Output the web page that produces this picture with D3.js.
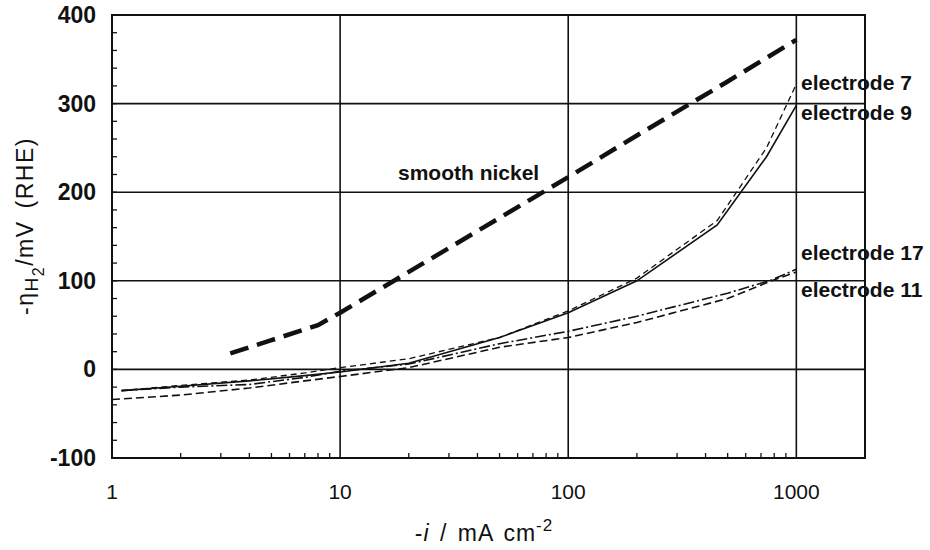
<!DOCTYPE html>
<html>
<head>
<meta charset="utf-8">
<script src="https://cdn.jsdelivr.net/npm/d3@7"></script>
<style>
  body { margin: 0; background: #fff; }
  svg text { font-family: "Liberation Sans", Arial, sans-serif; fill: #111; }
</style>
</head>
<body>
<script>
// tick values
var xTicks = [1, 10, 100, 1000];
var yTicks = [-100, 0, 100, 200, 300, 400];
var yMinor = d3.range(-100, 400, 20);

// series: [current density mA cm-2, -overpotential mV]
var nickel = [[3.3,18],[5,33],[8,50],[10,64],[20,110],[50,171],[100,217],[200,264],[500,325],[1000,372]];
var elec7  = [[1.1,-24],[2,-18],[4,-12],[7,-4],[10,2],[20,12],[50,36],[100,66],[200,103],[450,168],[740,250],[1000,322]];
var elec9  = [[1.1,-24],[2,-19],[4,-13],[7,-7],[10,-3],[20,7],[50,36],[100,64],[200,100],[450,163],[740,240],[1000,298]];
var elec11 = [[1,-34],[2,-29],[4,-21],[7,-13],[10,-8],[20,2],[50,25],[100,36],[200,53],[500,80],[780,100],[1000,110]];
var elec17 = [[1.1,-24],[2,-20],[4,-17],[7,-9],[10,-2],[20,6],[50,29],[100,43],[200,60],[500,86],[780,101],[1000,113]];

var seriesLabels = ["electrode 7", "electrode 9", "electrode 17", "electrode 11", "smooth nickel"];

var W = 930, H = 550;
var mLeft = 112, mRight = 865, mTop = 15, mBottom = 458;

var svg = d3.select("body").append("svg")
  .attr("width", W)
  .attr("height", H);

var x = d3.scaleLog().domain([1, 2000]).range([mLeft, mRight]);
var y = d3.scaleLinear().domain([-100, 400]).range([mBottom, mTop]);

// series labels (drawn first so the grid runs through them)
svg.selectAll("text.slab").data(seriesLabels).enter().append("text")
  .attr("x", function(d, i){ return i < 4 ? 801 : 398; })
  .attr("y", function(d, i){ return [90, 120, 260, 297, 180][i]; })
  .style("font-size", "21px").style("font-weight", "bold")
  .text(function(d){ return d; });

// grid lines
svg.selectAll("line.hgrid").data(yTicks.slice(1, -1)).enter().append("line")
  .attr("x1", mLeft).attr("x2", mRight)
  .attr("y1", function(d){ return y(d); }).attr("y2", function(d){ return y(d); })
  .style("stroke", "#111").style("stroke-width", 1.6);
svg.selectAll("line.vgrid").data(xTicks.slice(1)).enter().append("line")
  .attr("y1", mTop).attr("y2", mBottom)
  .attr("x1", function(d){ return x(d); }).attr("x2", function(d){ return x(d); })
  .style("stroke", "#111").style("stroke-width", 1.6);

// minor ticks, inward
var xMinor = [];
[1, 10, 100, 1000].forEach(function(dec){
  for (var k = 2; k <= 9; k++) { if (dec * k < 2000) xMinor.push(dec * k); }
});
svg.selectAll("line.xminor").data(xMinor).enter().append("line")
  .attr("x1", function(d){ return x(d); }).attr("x2", function(d){ return x(d); })
  .attr("y1", mBottom).attr("y2", mBottom - 5)
  .style("stroke", "#111").style("stroke-width", 1.3);
svg.selectAll("line.yminor").data(yMinor).enter().append("line")
  .attr("x1", mLeft).attr("x2", mLeft + 5)
  .attr("y1", function(d){ return y(d); }).attr("y2", function(d){ return y(d); })
  .style("stroke", "#111").style("stroke-width", 1.3);

// frame
svg.append("rect")
  .attr("x", mLeft).attr("y", mTop)
  .attr("width", mRight - mLeft).attr("height", mBottom - mTop)
  .style("fill", "none").style("stroke", "#111").style("stroke-width", 2);

// tick labels
svg.selectAll("text.ylab").data(yTicks).enter().append("text")
  .attr("x", 96).attr("y", function(d){ return y(d) + 8; })
  .attr("text-anchor", "end")
  .style("font-size", "23px").style("font-weight", "bold")
  .text(function(d){ return d; });
svg.selectAll("text.xlab").data(xTicks).enter().append("text")
  .attr("x", function(d){ return x(d); }).attr("y", 499)
  .attr("text-anchor", "middle")
  .style("font-size", "21px")
  .text(function(d){ return d; });

// axis titles
var xt = svg.append("text").attr("x", 484).attr("y", 541).attr("text-anchor", "middle")
  .style("font-size", "23px").style("letter-spacing", "1px").style("word-spacing", "3px");
xt.append("tspan").text("-");
xt.append("tspan").style("font-style", "italic").text("i");
xt.append("tspan").text(" / mA cm");
xt.append("tspan").attr("dy", -10).style("font-size", "17px").text("-2");

var yt = svg.append("text").attr("transform", "translate(33,226) rotate(-90)")
  .attr("text-anchor", "middle").style("font-size", "23px")
  .style("letter-spacing", "1.5px").style("word-spacing", "4px");
yt.append("tspan").text("-\u03b7");
yt.append("tspan").attr("dy", 5).style("font-size", "19px").text("H");
yt.append("tspan").attr("dy", 6).style("font-size", "16px").text("2");
yt.append("tspan").attr("dy", -11).text("/mV (RHE)");

// curves
var line = d3.line()
  .x(function(d){ return x(d[0]); })
  .y(function(d){ return y(d[1]); });

var series = [
  {d:nickel, w:4.5, dash:"19,9"},
  {d:elec7,  w:1.3, dash:"6,4"},
  {d:elec9,  w:1.6, dash:null},
  {d:elec11, w:1.6, dash:"8,4"},
  {d:elec17, w:1.6, dash:"11,3,2,3"}
];
series.forEach(function(s){
  svg.append("path")
    .attr("d", line(s.d))
    .style("fill", "none").style("stroke", "#111")
    .style("stroke-width", s.w)
    .style("stroke-dasharray", s.dash);
});
</script>
</body>
</html>
